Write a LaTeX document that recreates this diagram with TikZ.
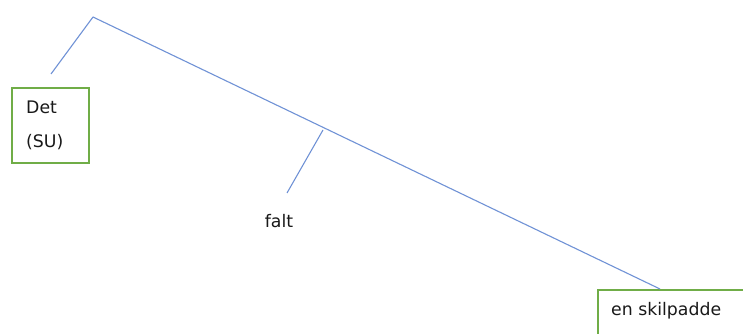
\documentclass[tikz,border=0pt]{standalone}
\usepackage{fontspec}
\setmainfont{DejaVu Sans}
\definecolor{linkblue}{RGB}{112,146,214}
\definecolor{boxgreen}{RGB}{112,173,71}
\tikzset{
  treeline/.style={draw=linkblue, line width=1.1pt},
  gbox/.style={draw=boxgreen, line width=2pt, inner sep=0pt, fill=none},
  lbl/.style={inner sep=0pt, font=\fontsize{17.3}{20}\selectfont, text=black!90}
}
\begin{document}
\begin{tikzpicture}[x=1pt,y=1pt]
\useasboundingbox (0,0) rectangle (743,334);
\clip (0,0) rectangle (743,334);
\fill[white] (0,0) rectangle (743,334);
% coordinates (y flipped: 334 - pixel y)
\coordinate (apex) at (93,317);
\coordinate (detend) at (51,260);
\coordinate (branch) at (323,204);
\coordinate (faltend) at (287,141);
\coordinate (mainend) at (660,45);
% boxes
\node[gbox, minimum width=77pt, minimum height=75pt, anchor=north west] (det) at (11,247) {};
\node[lbl, anchor=base west] (detA) at (26,220) {Det};
\node[lbl, anchor=base west] (detB) at (26,186) {(SU)};
\node[gbox, minimum width=300pt, minimum height=120pt, anchor=north west] (skil) at (597,45) {};
\node[lbl, anchor=base west] (skilA) at (611,18) {en skilpadde};
\node[lbl, anchor=base] (falt) at (279,106) {falt};
% connectors
\draw[treeline] (detend) -- (apex);
\draw[treeline] (apex) -- (mainend);
\draw[treeline] (branch) -- (faltend);
\end{tikzpicture}
\end{document}
